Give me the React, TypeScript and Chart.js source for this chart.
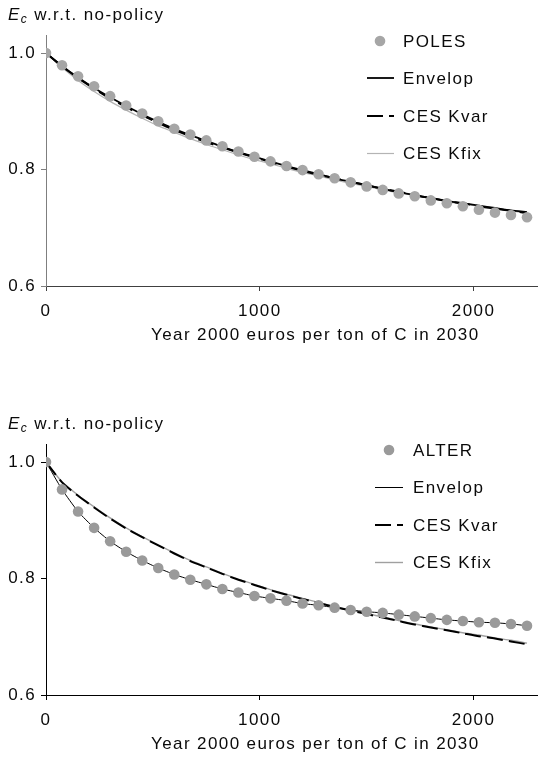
import React, { useEffect, useRef } from 'react';
import { Chart, registerables } from 'chart.js';

Chart.register(...registerables);

// Carbon price grid (year 2000 euros per ton of C in 2030)
const prices = [
  0, 75, 150, 225, 300, 375, 450, 525, 600, 675, 750, 825, 900, 975, 1050, 1125,
  1200, 1275, 1350, 1425, 1500, 1575, 1650, 1725, 1800, 1875, 1950, 2025, 2100, 2175, 2250,
];

// Upper panel: POLES and its fitted curves
const polesValues = [
  1.0, 0.979, 0.96, 0.943, 0.926, 0.91, 0.896, 0.883, 0.87, 0.86, 0.85, 0.84, 0.831, 0.822, 0.814, 0.806,
  0.799, 0.792, 0.785, 0.778, 0.771, 0.765, 0.759, 0.754, 0.747, 0.742, 0.737, 0.731, 0.726, 0.722, 0.718,
];
const polesEnvelop = [
  1.0, 0.978, 0.958, 0.94, 0.924, 0.909, 0.895, 0.882, 0.87, 0.859, 0.849, 0.839, 0.83, 0.822, 0.814, 0.806,
  0.799, 0.792, 0.785, 0.779, 0.773, 0.767, 0.761, 0.756, 0.751, 0.746, 0.742, 0.738, 0.734, 0.73, 0.727,
];
const polesKvar = [
  1.0, 0.977, 0.957, 0.939, 0.922, 0.907, 0.893, 0.88, 0.868, 0.857, 0.847, 0.838, 0.829, 0.821, 0.813, 0.805,
  0.798, 0.791, 0.785, 0.779, 0.773, 0.767, 0.762, 0.756, 0.751, 0.746, 0.742, 0.737, 0.733, 0.729, 0.725,
];
const polesKfix = [
  1.0, 0.975, 0.953, 0.934, 0.917, 0.902, 0.888, 0.875, 0.864, 0.853, 0.843, 0.834, 0.825, 0.817, 0.81, 0.802,
  0.795, 0.789, 0.782, 0.776, 0.771, 0.765, 0.76, 0.755, 0.75, 0.745, 0.741, 0.737, 0.733, 0.729, 0.725,
];

// Lower panel: ALTER and its fitted curves
const alterValues = [
  1.0, 0.953, 0.915, 0.887, 0.864, 0.846, 0.831, 0.818, 0.807, 0.798, 0.79, 0.782, 0.776, 0.77, 0.766, 0.762,
  0.757, 0.754, 0.75, 0.746, 0.743, 0.741, 0.738, 0.735, 0.732, 0.729, 0.727, 0.725, 0.724, 0.722, 0.719,
];
const alterEnvelop = [
  1.0, 0.953, 0.915, 0.887, 0.864, 0.846, 0.831, 0.818, 0.807, 0.798, 0.79, 0.782, 0.776, 0.77, 0.766, 0.762,
  0.757, 0.754, 0.75, 0.746, 0.743, 0.741, 0.738, 0.735, 0.732, 0.729, 0.727, 0.725, 0.724, 0.722, 0.719,
];
const alterKvar = [
  1.0, 0.965, 0.942, 0.922, 0.903, 0.886, 0.871, 0.857, 0.843, 0.83, 0.819, 0.808, 0.798, 0.789, 0.78, 0.772,
  0.765, 0.758, 0.751, 0.745, 0.739, 0.733, 0.727, 0.721, 0.716, 0.711, 0.706, 0.701, 0.697, 0.692, 0.687,
];
const alterKfix = [
  1.0, 0.966, 0.943, 0.923, 0.904, 0.887, 0.872, 0.858, 0.844, 0.831, 0.82, 0.809, 0.799, 0.79, 0.781, 0.773,
  0.766, 0.759, 0.752, 0.746, 0.74, 0.734, 0.728, 0.722, 0.717, 0.712, 0.707, 0.703, 0.698, 0.694, 0.689,
];

const xTicks = [0, 1000, 2000];
const yTicks = [0.6, 0.8, 1.0];
const xTitle = 'Year 2000 euros per ton of C in 2030';
const yTitleMain = 'E';
const yTitleSub = 'c';
const yTitleRest = ' w.r.t. no-policy';
const legendLabels = ['Envelop', 'CES Kvar', 'CES Kfix'];

const FONT = '"Liberation Sans", Arial, Helvetica, sans-serif';
const TEXT = '#0a0a0a';
const SPACING = '1.4px';
const W = 543;
const H = 348;

const pairs = (ys: number[]) => prices.map((x, i) => ({ x, y: ys[i] }));

// Canvas text in this figure is slightly letter-spaced
const spacingPlugin = {
  id: 'spacing',
  beforeUpdate(chart: any) {
    chart.ctx.letterSpacing = SPACING;
  },
  beforeDraw(chart: any) {
    chart.ctx.letterSpacing = SPACING;
  },
};

// Axis titles and the in-plot legend
const annotatePlugin = {
  id: 'annotate',
  afterDraw(chart: any, _args: any, opts: any) {
    const ctx = chart.ctx as CanvasRenderingContext2D;
    ctx.save();
    (ctx as any).letterSpacing = SPACING;
    ctx.fillStyle = TEXT;
    ctx.textAlign = 'left';
    ctx.textBaseline = 'alphabetic';

    // y-axis title: E with subscript c
    let x = 8;
    const base = 20;
    ctx.font = `italic 17px ${FONT}`;
    ctx.fillText(yTitleMain, x, base);
    x += ctx.measureText(yTitleMain).width;
    ctx.font = `italic 12px ${FONT}`;
    ctx.fillText(yTitleSub, x, base + 3);
    x += ctx.measureText(yTitleSub).width;
    ctx.font = `17px ${FONT}`;
    ctx.fillText(yTitleRest, x, base);

    // x-axis title
    ctx.fillText(xTitle, 151, 339.5);

    // legend
    const lg = opts.legend;
    const rows = [41, 78, 115.5, 153];
    ctx.fillStyle = lg.pointColor;
    ctx.beginPath();
    ctx.arc(lg.dotX, rows[0], 5.3, 0, Math.PI * 2);
    ctx.fill();
    ctx.fillStyle = TEXT;
    ctx.fillText(lg.pointLabel, lg.textX, rows[0] + 6);

    lg.lines.forEach((ln: any, i: number) => {
      const y = rows[i + 1];
      const ly = Math.round(ln.width) % 2 === 1 ? Math.floor(y) + 0.5 : Math.round(y);
      ctx.save();
      ctx.strokeStyle = ln.color;
      ctx.lineWidth = ln.width;
      ctx.setLineDash(ln.dash || []);
      ctx.beginPath();
      ctx.moveTo(lg.lineX0, ly);
      ctx.lineTo(lg.lineX1, ly);
      ctx.stroke();
      ctx.restore();
      ctx.fillStyle = TEXT;
      ctx.fillText(legendLabels[i], lg.textX, y + 6);
    });
    ctx.restore();
  },
};

type PanelProps = {
  top: number;
  pointLabel: string;
  points: number[];
  envelop: number[];
  kvar: number[];
  kfix: number[];
  pointColor: string;
  envelopWidth: number;
  kfixColor: string;
  kfixWidth: number;
  yAxisColor: string;
  xAxisColor: string;
  dotX: number;
  textX: number;
  lineX0: number;
  lineX1: number;
};

const KVAR_DASH = [16, 6];

function Panel(p: PanelProps) {
  const ref = useRef<HTMLCanvasElement | null>(null);

  useEffect(() => {
    if (!ref.current) return;
    const lineStyles = [
      { color: '#000000', width: p.envelopWidth, dash: [] as number[] },
      { color: '#000000', width: 2, dash: KVAR_DASH },
      { color: p.kfixColor, width: p.kfixWidth, dash: [] as number[] },
    ];
    const chart = new Chart(ref.current, {
      type: 'line',
      data: {
        datasets: [
          {
            label: p.pointLabel,
            data: pairs(p.points),
            showLine: false,
            pointRadius: 5.3,
            pointHoverRadius: 5.3,
            pointBackgroundColor: p.pointColor,
            pointBorderWidth: 0,
            backgroundColor: p.pointColor,
            borderColor: p.pointColor,
            order: 0,
          },
          {
            label: legendLabels[0],
            data: pairs(p.envelop),
            borderColor: lineStyles[0].color,
            borderWidth: lineStyles[0].width,
            pointRadius: 0,
            tension: 0.2,
            order: 1,
          },
          {
            label: legendLabels[1],
            data: pairs(p.kvar),
            borderColor: lineStyles[1].color,
            borderWidth: lineStyles[1].width,
            borderDash: KVAR_DASH,
            pointRadius: 0,
            tension: 0.2,
            order: 2,
          },
          {
            label: legendLabels[2],
            data: pairs(p.kfix),
            borderColor: lineStyles[2].color,
            borderWidth: lineStyles[2].width,
            pointRadius: 0,
            tension: 0.2,
            order: 3,
          },
        ],
      },
      options: {
        animation: false,
        responsive: false,
        devicePixelRatio: 1,
        events: [],
        layout: { padding: { top: 35, left: 0, right: 0, bottom: 0 } },
        plugins: {
          legend: { display: false },
          tooltip: { enabled: false },
          title: { display: false },
          annotate: {
            legend: {
              pointLabel: p.pointLabel,
              pointColor: p.pointColor,
              dotX: p.dotX,
              textX: p.textX,
              lineX0: p.lineX0,
              lineX1: p.lineX1,
              lines: lineStyles,
            },
          },
        } as any,
        scales: {
          x: {
            type: 'linear',
            min: 0,
            max: 2300,
            afterBuildTicks: (s: any) => {
              s.ticks = xTicks.map((v) => ({ value: v }));
            },
            afterFit: (s: any) => {
              s.height = 62;
            },
            ticks: {
              font: { family: FONT, size: 17 },
              color: TEXT,
              padding: 10,
              maxRotation: 0,
              autoSkip: false,
              callback: (v: any) => String(v),
            },
            grid: {
              display: true,
              drawOnChartArea: false,
              drawTicks: true,
              tickLength: 5,
              color: p.xAxisColor,
            },
            border: { display: true, color: p.xAxisColor, width: 1 },
          },
          y: {
            type: 'linear',
            min: 0.6,
            max: 1.031,
            afterBuildTicks: (s: any) => {
              s.ticks = yTicks.map((v) => ({ value: v }));
            },
            afterFit: (s: any) => {
              s.width = 46;
            },
            ticks: {
              font: { family: FONT, size: 17 },
              color: TEXT,
              padding: 5,
              callback: (v: any) => Number(v).toFixed(1),
            },
            grid: {
              display: true,
              drawOnChartArea: false,
              drawTicks: true,
              tickLength: 5,
              color: p.yAxisColor,
            },
            border: { display: true, color: p.yAxisColor, width: 1 },
          },
        },
      },
      plugins: [spacingPlugin, annotatePlugin],
    } as any);
    return () => chart.destroy();
  }, []);

  return (
    <canvas
      ref={ref}
      width={W}
      height={H}
      style={{ position: 'absolute', left: 0, top: p.top, width: W, height: H }}
    />
  );
}

export default function App() {
  return (
    <div style={{ position: 'absolute', left: 0, top: 0, width: W, height: 757, background: '#ffffff' }}>
      <Panel
        top={0}
        pointLabel="POLES"
        points={polesValues}
        envelop={polesEnvelop}
        kvar={polesKvar}
        kfix={polesKfix}
        pointColor="#a6a6a6"
        envelopWidth={1.8}
        kfixColor="#b4b4b4"
        kfixWidth={1.2}
        yAxisColor="#7f7f7f"
        xAxisColor="#404040"
        dotX={380}
        textX={403}
        lineX0={367}
        lineX1={394}
      />
      <Panel
        top={409}
        pointLabel="ALTER"
        points={alterValues}
        envelop={alterEnvelop}
        kvar={alterKvar}
        kfix={alterKfix}
        pointColor="#9a9a9a"
        envelopWidth={1}
        kfixColor="#a0a0a0"
        kfixWidth={1.4}
        yAxisColor="#000000"
        xAxisColor="#000000"
        dotX={389}
        textX={413}
        lineX0={375}
        lineX1={403}
      />
    </div>
  );
}
